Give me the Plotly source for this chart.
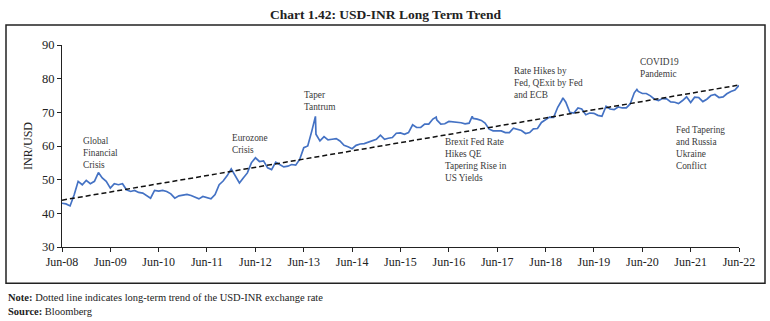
import pandas as pd
import plotly.graph_objects as go

# ---------------- data ----------------
month_start = "2008-06-01"
month_end = "2022-06-01"
usdinr_monthly = [
    # 2008 Jun-Dec
    43.0, 42.8, 42.2, 45.5, 49.5, 48.5, 49.8,
    # 2009
    48.8, 49.5, 51.8, 50.5, 49.5, 47.5, 48.8, 48.5, 48.8, 47.0, 46.5, 46.8,
    # 2010
    46.2, 46.0, 45.3, 44.5, 46.8, 46.6, 46.8, 46.5, 45.8, 44.5, 45.2, 45.4,
    # 2011
    45.6, 45.3, 44.8, 44.3, 45.0, 44.7, 44.3, 45.6, 48.5, 49.6, 51.2, 53.2,
    # 2012
    51.0, 49.0, 50.5, 52.0, 55.0, 56.5, 55.4, 55.6, 53.5, 53.0, 55.2, 54.5,
    # 2013
    53.8, 54.0, 54.5, 54.3, 56.0, 59.5, 60.0, 64.5, 63.5, 61.5, 62.8, 61.8,
    # 2014
    62.0, 62.2, 61.5, 60.2, 59.8, 59.2, 60.2, 60.6, 60.7, 61.2, 61.5, 62.0,
    # 2015
    63.2, 62.0, 62.3, 62.5, 63.8, 63.9, 63.5, 64.0, 66.3, 65.5, 65.5, 66.5,
    # 2016
    66.5, 68.0, 67.8, 66.5, 66.6, 67.3, 67.2, 67.0, 66.9, 66.6, 66.8, 68.2,
    # 2017
    68.0, 67.6, 66.8, 65.0, 64.5, 64.5, 64.5, 64.0, 64.0, 65.3, 65.0, 64.6,
    # 2018
    63.7, 64.0, 65.1, 65.2, 67.0, 67.8, 68.6, 68.5, 71.5, 73.5, 73.0, 70.0,
    # 2019
    69.8, 71.3, 71.0, 69.3, 69.8, 69.7, 69.1, 68.8, 71.8, 71.0, 70.8, 71.6,
    # 2020
    71.3, 71.3, 72.5, 75.8, 76.2, 75.6, 75.6, 74.9, 73.9, 73.5, 74.1, 74.0,
    # 2021
    73.1, 73.0, 72.6, 73.5, 74.6, 72.9, 74.5, 74.4, 73.2, 73.9, 75.0, 75.3,
    # 2022 Jan-Jun
    74.4, 74.6, 75.5, 76.2, 76.6, 78.0,
]
spike_dates = ["2009-03-03", "2013-08-28", "2016-02-26", "2016-11-24", "2018-10-10", "2020-04-21"]
spike_values = [52.1, 68.8, 68.6, 68.8, 74.3, 76.8]

trend_dates = ["2008-06-01", "2022-06-01"]
trend_values = [43.9, 78.1]

x_ticks = pd.date_range("2008-06-01", "2022-06-01", freq="12MS")
x_tick_labels = [d.strftime("Jun-%y") for d in x_ticks]
y_ticks = [30, 40, 50, 60, 70, 80, 90]

# (lines, left x px, y px, anchor)
events = [
    (["Global", "Financial", "Crisis"], 82, 152.6, "middle"),
    (["Eurozone", "Crisis"], 231, 144.3, "middle"),
    (["Taper", "Tantrum"], 302.5, 100.5, "middle"),
    (["Brexit Fed Rate", "Hikes QE", "Tapering Rise in", "US Yields"], 444.3, 136.0, "top"),
    (["Rate Hikes by", "Fed, QExit by Fed", "and ECB"], 513.3, 82.9, "middle"),
    (["COVID19", "Pandemic"], 639.3, 68.1, "middle"),
    (["Fed Tapering", "and Russia", "Ukraine", "Conflict"], 675, 124.0, "top"),
]

# ---------------- series ----------------
dates = list(pd.date_range(month_start, month_end, freq="MS"))
assert len(dates) == len(usdinr_monthly), (len(dates), len(usdinr_monthly))
s = pd.Series(usdinr_monthly, index=dates)
s = pd.concat([s, pd.Series(spike_values, index=pd.to_datetime(spike_dates))]).sort_index()

# ---------------- layout geometry (pixels) ----------------
W, H = 770, 321
PL, PR, PT, PB = 62, 739, 45, 246.7
pw, ph = PR - PL, PB - PT


def px(x):
    return (x - PL) / pw


def py(y):
    return (PB - y) / ph


FONT = "Liberation Serif"
fig = go.Figure()
fig.add_trace(go.Scatter(x=s.index, y=s.values, mode="lines",
                         line=dict(color="#4472C4", width=1.7), hoverinfo="skip",
                         showlegend=False))
fig.add_trace(go.Scatter(x=pd.to_datetime(trend_dates), y=trend_values, mode="lines",
                         line=dict(color="#111111", width=1.5, dash="5px,3px"),
                         showlegend=False))

annotations = []
for lines, lx, ly, anc in events:
    annotations.append(dict(text="<br>".join(lines), xref="paper", yref="paper",
                            x=px(lx), y=py(ly), xanchor="left", yanchor=anc, align="left",
                            showarrow=False, borderpad=0,
                            font=dict(family=FONT, size=9.3, color="#3a3a3a")))

annotations.append(dict(text="<b>Note:</b> Dotted line indicates long-term trend of the USD-INR exchange rate",
                        xref="paper", yref="paper", x=px(6), y=py(296.7), xanchor="left",
                        yanchor="middle", showarrow=False,
                        font=dict(family=FONT, size=10.5, color="#222")))
annotations.append(dict(text="<b>Source:</b> Bloomberg",
                        xref="paper", yref="paper", x=px(6), y=py(310.7), xanchor="left",
                        yanchor="middle", showarrow=False,
                        font=dict(family=FONT, size=10.5, color="#222")))

fig.update_layout(
    width=W, height=H,
    margin=dict(l=PL, r=W - PR, t=PT, b=H - PB),
    paper_bgcolor="white", plot_bgcolor="white",
    title=dict(text="<b>Chart 1.42: USD-INR Long Term Trend</b>", x=385.5 / W, xanchor="center",
               y=1 - 14 / H, yanchor="middle", yref="container",
               font=dict(family=FONT, size=13.5, color="#222")),
    xaxis=dict(type="date", range=[x_ticks[0], x_ticks[-1]], tickvals=x_ticks,
               ticktext=x_tick_labels, showgrid=False, zeroline=False,
               showline=True, linecolor="#222", linewidth=1, ticks="outside", ticklen=4,
               tickcolor="#222", tickfont=dict(family=FONT, size=12, color="#222")),
    yaxis=dict(range=[30, 90], tickvals=y_ticks, showgrid=False, zeroline=False,
               showline=True, linecolor="#222", linewidth=1, ticks="outside", ticklen=4,
               tickcolor="#222", tickfont=dict(family=FONT, size=12.5, color="#222"),
               title=dict(text="INR/USD", font=dict(family=FONT, size=12, color="#222"),
                          standoff=6)),
    annotations=annotations,
    shapes=[dict(type="rect", xref="paper", yref="paper", x0=px(6), x1=px(765),
                 y0=py(283), y1=py(25), line=dict(color="#222", width=1.5),
                 fillcolor="rgba(0,0,0,0)", layer="below")],
)

fig.write_html("out.html")
